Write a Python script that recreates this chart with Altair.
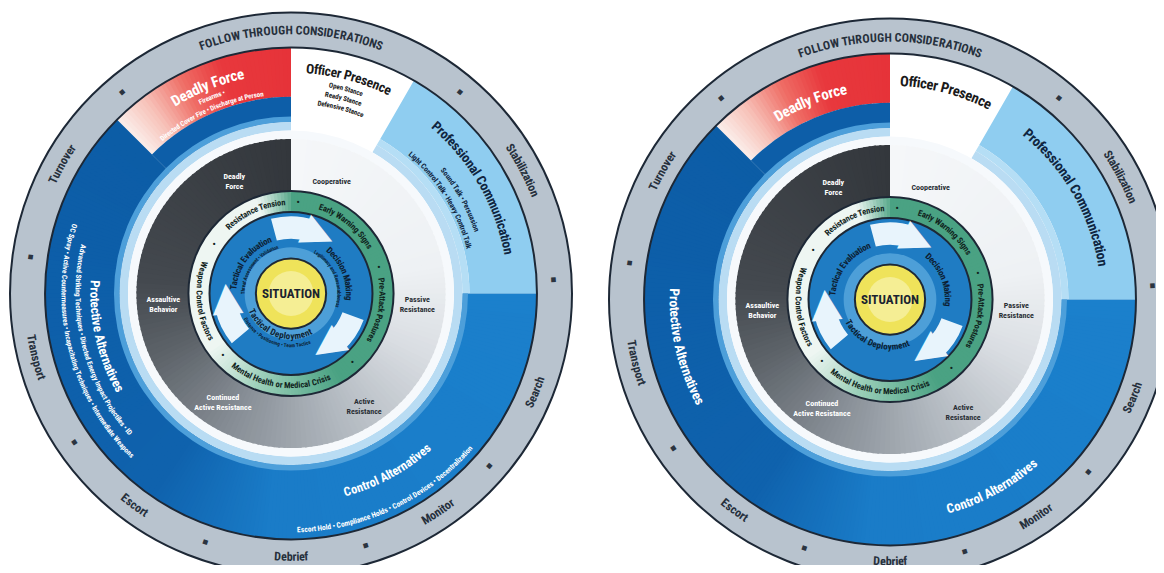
import math
import altair as alt
import pandas as pd

# ---------------- data ----------------
FOLLOW_LABELS = ["FOLLOW THROUGH CONSIDERATIONS", "Stabilization", "Search", "Monitor",
                 "Debrief", "Escort", "Transport", "Turnover"]
FOLLOW_DEG = [0, 62, 112, 146, 180, 216.5, 256, 299.5]
FOLLOW_BOTTOM = [False, False, True, True, True, True, True, False]
FOLLOW_DOTS_DEG = [40, 87, 131, 163.5, 199, 235.5, 278, 320]

RESPONSE = ["Officer Presence", "Professional Communication", "Control Alternatives",
            "Protective Alternatives", "Deadly Force"]
RESPONSE_FROM = [0, 30, 90, 205, 315]
RESPONSE_TO = [30, 90, 205, 315, 360]
RESPONSE_TITLE_DEG = [15, 60, 151.5, 257, 338]
RESPONSE_BOTTOM = [False, False, True, True, False]

RESPONSE_ITEMS = {
    "Officer Presence": ["Open Stance", "Ready Stance", "Defensive Stance"],
    "Professional Communication": ["Sound Talk • Persuasion",
                                   "Light Control Talk • Heavy Control Talk"],
    "Control Alternatives": ["Escort Hold • Compliance Holds • Control Devices • Decentralization"],
    "Protective Alternatives": ["Advanced Striking Techniques • Directed Energy Impact Projectiles • ID",
                                "OC Spray • Active Countermeasures • Incapacitating Techniques • Intermediate Weapons"],
    "Deadly Force": ["Firearms •", "Directed Cover Fire • Discharge at Person"],
}
RESPONSE_ITEMS_DEG = {
    "Officer Presence": [15, 15, 15],
    "Professional Communication": [61, 58],
    "Control Alternatives": [154.5],
    "Protective Alternatives": [256, 256],
    "Deadly Force": [338, 336],
}

RESISTANCE = ["Cooperative", "Passive\nResistance", "Active\nResistance",
              "Continued\nActive Resistance", "Assaultive\nBehavior", "Deadly\nForce"]
RESISTANCE_FROM = [0, 90, 135, 180, 225, 270]
RESISTANCE_TO = [90, 135, 180, 225, 270, 360]
RESISTANCE_LABEL_DEG = [20, 93, 146, 213, 267, 334]

RISK = ["Resistance Tension", "Early Warning Signs", "Pre-Attack Postures",
        "Mental Health or Medical Crisis", "Weapon Control Factors"]
RISK_DEG = [336, 39, 101, 187, 265]
RISK_BOTTOM = [False, False, False, True, True]
RISK_DOTS_DEG = [4.5, 73.5, 138, 228, 303]

CYCLE = ["Decision Making", "Tactical Deployment", "Tactical Evaluation"]
CYCLE_DEG = [68, 200, 307]
CYCLE_BOTTOM = [False, True, False]
CYCLE_ITEMS = ["Legitimacy and Reasonableness", "Distance • Positioning • Team Tactics",
               "Threat Assessment • Validation"]
CYCLE_ARROW_FROM = [345, 110, 230]
CYCLE_ARROW_TO = [18, 138, 258]

CENTRE_LABEL = "SITUATION"

# ---------------- layout & style ----------------
R_PX = 281
FONT = "Liberation Sans Narrow, Roboto Condensed, DejaVu Sans Condensed, sans-serif"
THETA = alt.Scale(domain=[0, 360], range=[0, 2 * math.pi], nice=False, zero=False)
RADIUS = alt.Scale(type="linear", domain=[0, 100], range=[0, R_PX], nice=False, zero=True)

WHEELS = [
    dict(center=(283, 285.5), detailed=True,
         title_r=[80, 78.6, 73.3, 70.0, 80.0], title_size=[13.5, 13.5, 12.5, 13, 15],
         deploy_r=15.2, follow_r=93.7),
    dict(center=(882, 291.5), detailed=False,
         title_r=[77.5, 76.5, 77.5, 77, 76.5], title_size=[14.5, 14, 13, 13.5, 15],
         deploy_r=16.8, follow_r=93.2),
]

TITLE_COLORS = ["#1a1a1a", "#0f2540", "#ffffff", "#ffffff", "#ffffff"]
ITEM_R = {
    "Officer Presence": [75.3, 71.8, 68.3],
    "Professional Communication": [69.6, 65.2],
    "Control Alternatives": [84.3],
    "Protective Alternatives": [76.0, 81.0],
    "Deadly Force": [75.3, 71.6],
}
ITEM_SIZE = {"Officer Presence": 7, "Professional Communication": 7.5,
             "Control Alternatives": 7.5, "Protective Alternatives": 7.3, "Deadly Force": 7}

AW = {' ': .278, '•': .35, '-': .333, '.': .278, ',': .278, '/': .278,
      'a': .556, 'b': .611, 'c': .556, 'd': .611, 'e': .556, 'f': .333, 'g': .611, 'h': .611,
      'i': .278, 'j': .278, 'k': .556, 'l': .278, 'm': .889, 'n': .611, 'o': .611, 'p': .611,
      'q': .611, 'r': .389, 's': .556, 't': .333, 'u': .611, 'v': .556, 'w': .778, 'x': .556,
      'y': .556, 'z': .5,
      'A': .722, 'B': .722, 'C': .722, 'D': .722, 'E': .667, 'F': .611, 'G': .778, 'H': .722,
      'I': .278, 'J': .556, 'K': .722, 'L': .611, 'M': .833, 'N': .722, 'O': .778, 'P': .667,
      'Q': .778, 'R': .722, 'S': .667, 'T': .611, 'U': .722, 'V': .667, 'W': .944, 'X': .667,
      'Y': .667, 'Z': .611}


def hex2rgb(h):
    h = h.lstrip("#")
    return [int(h[i:i + 2], 16) for i in (0, 2, 4)]


def grad(stops, a):
    for (a0, c0), (a1, c1) in zip(stops, stops[1:]):
        if a0 <= a <= a1:
            f = 0 if a1 == a0 else (a - a0) / (a1 - a0)
            x, y = hex2rgb(c0), hex2rgb(c1)
            return "#%02x%02x%02x" % tuple(round(p + (q - p) * f) for p, q in zip(x, y))
    return stops[-1][1]


RESIST_STOPS = [(0, "#f5f7f9"), (80, "#eef1f4"), (115, "#d9dde2"), (160, "#b1b8bf"),
                (205, "#868d95"), (245, "#5d6369"), (275, "#44494f"), (360, "#33373c")]
BLUE_STOPS = [(30, "#1b82ce"), (185, "#1a7cc8"), (215, "#0f62ad"), (360, "#0b5aa3")]
RED_STOPS = [(315, "#fbeeea"), (323, "#f7c2b9"), (333, "#ef6e66"), (343, "#e8383d"), (360, "#e63339")]
GREEN_STOPS = [(0, "#4aa283"), (150, "#4aa283"), (200, "#9dd0ba"), (235, "#eef6f2"),
               (340, "#eef6f2"), (360, "#5aa98c")]


def wheel_layers(cfg):
    cx, cy = cfg["center"]
    arcs, rings, texts, glyphs = [], [], [], []

    def arc(t0, t1, ri, ro, fill):
        arcs.append(dict(t0=t0, t1=t1, r0=ro, r1=ri, fill=fill))

    def gradient(t0, t1, ri, ro, stops, step=1.0):
        a = t0
        while a < t1 - 1e-9:
            b = min(a + step, t1)
            arc(a, b + 0.8 if b < t1 else b, ri, ro, grad(stops, (a + b) / 2))
            a = b

    def curved(text, centre, r, size, color, bottom=False):
        rpx = r / 100 * R_PX
        ws = [AW.get(c, .6) * 0.82 * size for c in text]
        total = sum(ws)
        acc = 0
        sign = -1 if bottom else 1
        for c, w in zip(text, ws):
            mid = acc + w / 2
            acc += w
            t = centre + sign * math.degrees((mid - total / 2) / rpx)
            rot = (t - 180) if bottom else t
            texts.append(dict(ch=c, t=t % 360, r=r, rot=rot % 360, size=size, color=color))

    # outer follow-through ring
    arc(0, 360, 87.5, 100, "#b8c3ce")
    rings.append(dict(t0=0, t1=360, r0=100, r1=87.5))
    for lab, deg, bot in zip(FOLLOW_LABELS, FOLLOW_DEG, FOLLOW_BOTTOM):
        curved(lab, deg, cfg["follow_r"], 12, "#26303c", bot)
    for deg in FOLLOW_DOTS_DEG:
        glyphs.append(dict(ch="■", t=deg, r=93.7, rot=deg % 360, size=6, color="#2b3440"))

    # response options ring
    for name, a0, a1 in zip(RESPONSE, RESPONSE_FROM, RESPONSE_TO):
        if name == "Officer Presence":
            arc(a0, a1, 55, 87.5, "#ffffff")
        elif name == "Professional Communication":
            arc(a0, a1, 63.5, 87.5, "#8fcdf0")
            arc(a0, a1, 61.0, 63.5, "#b5def5")
        elif name == "Deadly Force":
            gradient(a0, a1, 70, 87.5, RED_STOPS)
            arc(a0, a1, 61.0, 70, "#0d5ea8")
    # control + protective alternatives blend into one another
    gradient(RESPONSE_FROM[2], RESPONSE_TO[3], 61.0, 87.5, BLUE_STOPS)
    arc(90, 360, 61.0, 63.0, "#4d9fda")
    arc(30, 360, 58.0, 61.0, "#b9dcf3")
    arc(0, 360, 55.0, 58.0, "#f6f9fc")

    # resistance circle
    gradient(0, 360, 0, 55, RESIST_STOPS, step=2.0)

    # risk assessment ring
    gradient(0, 360, 29, 36.5, GREEN_STOPS, step=2.0)
    rings.append(dict(t0=0, t1=360, r0=36.5, r1=29))

    # cycle disk
    arc(0, 360, 12.5, 29, "#1f7cc3")
    arc(0, 360, 12.5, 16.5, "#4d9fd8")
    for a0, a1 in zip(CYCLE_ARROW_FROM, CYCLE_ARROW_TO):
        end = a1 if a1 > a0 else a1 + 360
        arc(a0, end, 19.5, 27.5, "#e8f4fc")
        glyphs.append(dict(ch="▶", t=(end + 7) % 360, r=23.5, rot=(end + 7) % 360,
                           size=40, color="#e8f4fc"))

    # centre
    arc(0, 360, 0, 12.5, "#efe35a")
    arc(0, 360, 0, 8, "#f5ee94")
    rings.append(dict(t0=0, t1=360, r0=12.5, r1=0))

    # texts: response titles and items
    for i, name in enumerate(RESPONSE):
        curved(name, RESPONSE_TITLE_DEG[i], cfg["title_r"][i], cfg["title_size"][i],
               TITLE_COLORS[i], RESPONSE_BOTTOM[i])
        if cfg["detailed"]:
            for item, deg, r in zip(RESPONSE_ITEMS[name], RESPONSE_ITEMS_DEG[name], ITEM_R[name]):
                curved(item, deg, r, ITEM_SIZE[name], TITLE_COLORS[i], RESPONSE_BOTTOM[i])

    # resistance labels
    res_r = [42.3, 45, 46.5, 44.5, 45.5, 46]
    res_col = ["#2a2f35", "#2a2f35", "#2a2f35", "#ffffff", "#ffffff", "#ffffff"]
    for lab, deg, r, col in zip(RESISTANCE, RESISTANCE_LABEL_DEG, res_r, res_col):
        texts.append(dict(ch=lab, t=deg, r=r, rot=0, size=8, color=col))

    # risk ring labels
    for lab, deg, bot in zip(RISK, RISK_DEG, RISK_BOTTOM):
        curved(lab, deg, 32.6, 8.5, "#10241d", bot)
    for deg in RISK_DOTS_DEG:
        texts.append(dict(ch="•", t=deg, r=32.6, rot=0, size=9, color="#10241d"))

    # cycle labels
    for j, (lab, deg, bot) in enumerate(zip(CYCLE, CYCLE_DEG, CYCLE_BOTTOM)):
        r = cfg["deploy_r"] if bot else 20.6
        curved(lab, deg, r, 9, "#0d1f33", bot)
        if cfg["detailed"]:
            rr = r + 3.2 if bot else r - 3.4
            curved(CYCLE_ITEMS[j], deg, rr, 5.2, "#0d1f33", bot)

    texts.append(dict(ch=CENTRE_LABEL, t=0, r=0, rot=0, size=13, color="#1a2330"))

    enc_pos = dict(x=alt.value(cx), y=alt.value(cy))
    arc_layer = alt.Chart(pd.DataFrame(arcs)).mark_arc(strokeWidth=0).encode(
        theta=alt.Theta("t0:Q", scale=THETA, stack=None),
        theta2="t1:Q",
        radius=alt.Radius("r0:Q", scale=RADIUS),
        radius2="r1:Q",
        color=alt.Color("fill:N", scale=None),
        **enc_pos,
    )
    ring_layer = alt.Chart(pd.DataFrame(rings)).mark_arc(
        fillOpacity=0, stroke="#1d2836", strokeWidth=2).encode(
        theta=alt.Theta("t0:Q", scale=THETA, stack=None),
        theta2="t1:Q",
        radius=alt.Radius("r0:Q", scale=RADIUS),
        radius2="r1:Q",
        **enc_pos,
    )

    def text_layer(df, font, weight):
        return alt.Chart(df).mark_text(
            font=font, fontWeight=weight, align="center", baseline="middle", lineBreak="\n"
        ).encode(
            theta=alt.Theta("t:Q", scale=THETA, stack=None),
            radius=alt.Radius("r:Q", scale=RADIUS),
            angle=alt.Angle("rot:Q", scale=None),
            size=alt.Size("size:Q", scale=None),
            color=alt.Color("color:N", scale=None),
            text="ch:N",
            **enc_pos,
        )

    return [arc_layer, ring_layer,
            text_layer(pd.DataFrame(glyphs), "DejaVu Sans", "normal"),
            text_layer(pd.DataFrame(texts), FONT, "bold")]


layers = []
for cfg in WHEELS:
    layers += wheel_layers(cfg)

chart = alt.layer(*layers).properties(
    width=1148, height=557, padding=0, autosize="none", background="white"
).configure_view(stroke=None)

chart.save("out.html", embed_options={"renderer": "svg", "actions": False})
